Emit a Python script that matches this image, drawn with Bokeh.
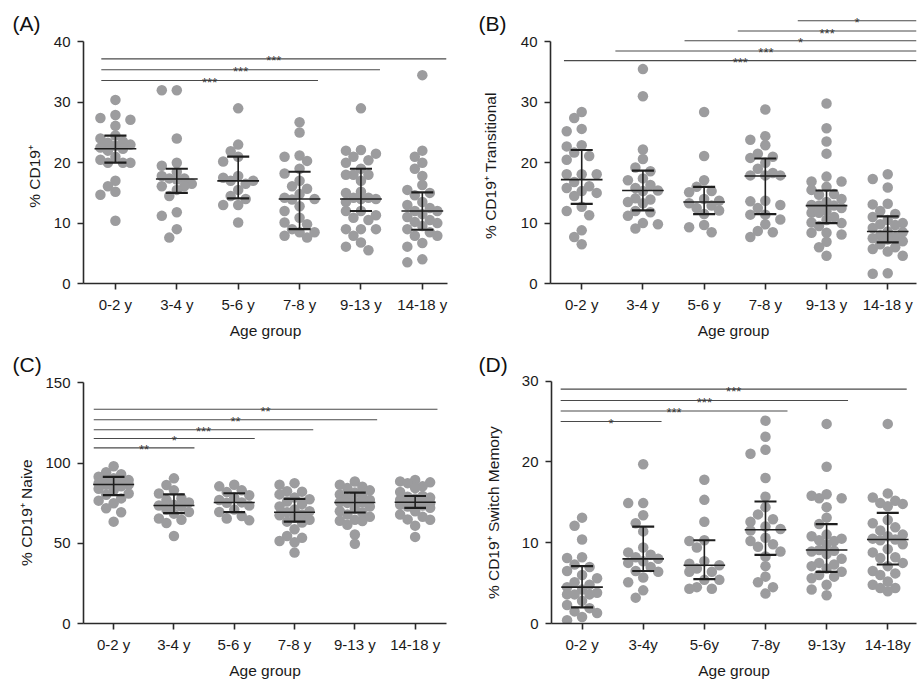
from bokeh.plotting import figure
from bokeh.layouts import column, row
from bokeh.models import FixedTicker, Title
from bokeh.embed import file_html
from bokeh.resources import INLINE
from bokeh.core.properties import value

# ---------------- data ----------------
groups_abc = ["0-2 y", "3-4 y", "5-6 y", "7-8 y", "9-13 y", "14-18 y"]
groups_d = ["0-2 y", "3-4y", "5-6y", "7-8y", "9-13y", "14-18y"]

# (A) % CD19+
cd19_0_2 = [30.4, 27.9, 27.4, 27.1, 26.1, 24.5, 24.0, 23.5, 23.3, 23.0, 22.8, 22.5, 22.3, 22.0, 21.0, 20.5, 20.0, 20.0, 20.0, 17.0, 16.1, 15.2, 14.7, 10.4]
cd19_3_4 = [32.0, 32.0, 24.0, 20.0, 19.5, 18.5, 17.8, 17.4, 17.4, 17.2, 16.5, 16.1, 16.1, 15.5, 14.5, 11.8, 11.2, 9.0, 7.6]
cd19_5_6 = [29.0, 23.0, 21.9, 21.0, 20.2, 17.8, 17.5, 17.0, 17.0, 16.5, 15.5, 14.5, 14.0, 13.0, 13.0, 10.1]
cd19_7_8 = [26.7, 25.0, 21.2, 21.0, 20.3, 19.0, 18.2, 17.0, 16.1, 15.7, 14.8, 14.2, 14.0, 13.9, 12.8, 12.0, 10.9, 10.1, 9.8, 9.0, 8.5, 8.5, 7.9, 7.6]
cd19_9_13 = [29.0, 22.1, 22.0, 21.5, 21.0, 20.4, 20.0, 19.0, 18.0, 18.0, 18.0, 17.0, 15.2, 15.0, 14.2, 14.2, 14.0, 14.0, 13.5, 12.0, 12.0, 11.3, 10.9, 10.5, 9.0, 9.0, 9.0, 7.9, 6.8, 6.1, 5.5]
cd19_14_18 = [34.5, 22.0, 21.0, 20.0, 19.0, 17.8, 16.3, 15.5, 15.0, 14.6, 13.5, 13.0, 12.5, 12.0, 12.0, 11.5, 11.0, 10.5, 10.2, 10.0, 9.5, 9.0, 8.5, 7.9, 7.9, 6.7, 6.1, 4.0, 3.5]
cd19_med = [22.3, 17.3, 17.0, 14.0, 14.0, 12.0]
cd19_q1 = [20.0, 15.0, 14.1, 9.0, 12.0, 8.9]
cd19_q3 = [24.5, 19.0, 21.0, 18.5, 19.0, 15.1]
cd19_sig_from = [-0.23, -0.23, -0.23]
cd19_sig_to = [3.30, 4.31, 5.39]
cd19_sig_y = [33.6, 35.4, 37.2]
cd19_sig_lab = ["***", "***", "***"]

# (B) % CD19+ Transitional
tr_0_2 = [28.4, 27.4, 25.6, 25.2, 22.9, 22.7, 21.7, 21.1, 20.5, 18.1, 18.1, 18.1, 16.8, 16.1, 15.8, 15.3, 15.0, 14.5, 12.7, 12.0, 11.3, 8.8, 7.7, 6.5]
tr_3_4 = [35.5, 31.0, 22.2, 20.6, 19.2, 18.6, 17.4, 17.1, 16.3, 15.8, 15.4, 15.3, 14.1, 13.9, 13.5, 13.3, 12.0, 11.8, 11.2, 10.0, 9.8, 9.1]
tr_5_6 = [28.4, 21.1, 17.1, 16.0, 15.3, 15.1, 14.0, 13.7, 13.3, 12.9, 12.5, 12.1, 11.5, 9.7, 9.3, 8.5]
tr_7_8 = [28.8, 24.4, 23.8, 22.9, 21.5, 21.0, 20.8, 20.0, 19.0, 18.3, 17.9, 17.9, 17.9, 13.7, 13.6, 13.0, 12.5, 11.4, 11.4, 10.6, 9.8, 8.7, 8.5, 7.7]
tr_9_13 = [29.8, 25.7, 23.5, 21.5, 17.7, 16.9, 16.9, 16.0, 15.5, 14.8, 14.7, 14.0, 13.5, 13.0, 12.9, 12.9, 12.5, 12.0, 11.7, 11.7, 11.0, 10.5, 10.1, 10.0, 9.5, 8.4, 8.4, 8.1, 6.9, 6.0, 4.6]
tr_14_18 = [18.1, 17.3, 15.9, 13.2, 13.1, 12.0, 11.5, 11.0, 10.5, 10.0, 9.8, 9.7, 9.2, 8.6, 8.5, 8.0, 7.7, 7.5, 7.3, 7.0, 6.5, 6.0, 5.7, 5.3, 4.6, 1.7, 1.6]
tr_med = [17.2, 15.4, 13.5, 17.8, 12.9, 8.6]
tr_q1 = [13.2, 12.1, 11.5, 11.5, 10.0, 6.8]
tr_q3 = [22.1, 18.7, 16.0, 20.7, 15.4, 11.1]
tr_sig_from = [-0.29, 0.55, 1.68, 2.55, 3.53]
tr_sig_to = [5.47, 5.47, 5.47, 5.47, 5.47]
tr_sig_y = [36.9, 38.5, 40.2, 41.8, 43.5]
tr_sig_lab = ["***", "***", "*", "***", "*"]

# (C) % CD19+ Naive
nv_0_2 = [98.0, 94.3, 93.0, 91.5, 90.5, 89.4, 88.5, 88.0, 87.5, 87.0, 86.7, 86.5, 85.5, 84.0, 83.0, 81.0, 80.3, 78.0, 76.6, 75.0, 71.9, 69.4, 63.5]
nv_3_4 = [90.5, 86.4, 83.0, 81.0, 78.1, 77.0, 75.5, 74.0, 73.6, 72.9, 71.0, 69.5, 68.5, 65.5, 64.7, 62.7, 54.5]
nv_5_6 = [86.5, 85.5, 83.0, 82.0, 80.0, 78.5, 77.0, 75.5, 75.3, 73.5, 71.0, 69.5, 67.0, 65.5, 64.3]
nv_7_8 = [87.5, 86.5, 82.5, 82.2, 80.5, 78.5, 77.5, 76.0, 74.5, 73.0, 71.0, 70.0, 69.4, 68.0, 67.5, 66.0, 64.7, 63.5, 62.9, 58.8, 54.5, 53.4, 51.4, 50.7, 44.2]
nv_9_13 = [88.5, 86.5, 85.3, 84.5, 83.0, 81.6, 80.5, 79.5, 78.0, 77.0, 76.0, 75.6, 75.4, 75.2, 73.0, 71.5, 70.0, 69.2, 68.0, 66.5, 64.7, 64.1, 63.9, 61.6, 55.5, 49.7]
nv_14_18 = [89.5, 88.6, 88.0, 87.5, 85.5, 84.5, 82.0, 79.5, 79.0, 78.5, 78.0, 77.0, 76.5, 75.6, 75.0, 74.5, 74.0, 73.5, 73.0, 72.1, 70.0, 68.0, 66.5, 64.9, 64.7, 61.0, 54.0]
nv_med = [86.7, 73.6, 75.4, 69.4, 75.4, 75.6]
nv_q1 = [80.1, 68.8, 69.4, 63.5, 69.2, 72.1]
nv_q3 = [91.4, 80.5, 81.2, 77.7, 81.6, 79.5]
nv_sig_from = [-0.33, -0.33, -0.33, -0.33, -0.33]
nv_sig_to = [1.34, 2.34, 3.31, 4.37, 5.37]
nv_sig_y = [109.5, 115.3, 120.8, 127.0, 133.6]
nv_sig_lab = ["**", "*", "***", "**", "**"]

# (D) % CD19+ Switch Memory
sm_0_2 = [13.1, 12.1, 10.4, 8.2, 8.1, 7.3, 7.0, 6.5, 6.0, 5.6, 5.1, 4.8, 4.5, 4.2, 3.8, 3.6, 3.6, 3.6, 2.8, 2.3, 1.9, 1.5, 1.3, 0.8, 0.4]
sm_3_4 = [19.7, 14.9, 14.9, 13.4, 12.4, 11.4, 9.4, 8.8, 8.5, 8.2, 8.0, 7.7, 7.5, 7.0, 6.5, 6.4, 5.7, 5.1, 4.1, 3.2]
sm_5_6 = [17.8, 15.3, 12.6, 10.3, 10.2, 9.4, 7.7, 7.4, 7.2, 6.8, 6.4, 6.4, 5.4, 5.4, 4.5, 4.3, 4.3]
sm_7_8 = [25.1, 23.1, 21.5, 21.0, 18.0, 15.7, 14.4, 13.5, 12.9, 12.6, 12.0, 11.7, 11.5, 10.6, 10.2, 9.8, 9.5, 8.9, 8.3, 7.1, 5.8, 5.1, 4.5, 3.7]
sm_9_13 = [24.7, 19.4, 16.0, 15.8, 15.5, 15.5, 14.4, 13.1, 12.3, 11.0, 10.8, 10.5, 10.3, 10.2, 9.8, 9.1, 9.0, 8.9, 8.6, 8.0, 7.5, 7.3, 7.1, 6.8, 6.4, 6.0, 5.8, 5.6, 4.8, 4.2, 3.5]
sm_14_18 = [24.7, 16.1, 15.6, 15.2, 14.9, 14.8, 14.5, 12.8, 12.4, 11.9, 11.5, 11.0, 10.8, 10.5, 10.4, 10.3, 9.8, 9.2, 8.8, 8.2, 8.1, 7.5, 7.1, 6.5, 6.2, 6.0, 5.2, 4.8, 4.4, 4.4, 4.0]
sm_med = [4.5, 8.0, 7.2, 11.6, 9.1, 10.4]
sm_q1 = [2.0, 6.5, 5.5, 8.5, 6.4, 7.3]
sm_q3 = [7.1, 12.0, 10.3, 15.1, 12.3, 13.7]
sm_sig_from = [-0.35, -0.35, -0.35, -0.35]
sm_sig_to = [1.30, 3.36, 4.35, 5.31]
sm_sig_y = [25.0, 26.3, 27.6, 29.0]
sm_sig_lab = ["*", "***", "***", "***"]

# ---------------- style ----------------
FONT = "Liberation Sans"
DOT = "#9c9c9e"
INK = "#1e1e1e"
AXIS = "#2a2a2a"
NBSP = "\u00a0"


def swarm(vals, px_per_unit, px_per_cat, step=7.5, dmin=9.0):
    """Column-style dot layout: at most two half-dot steps either side."""
    order = sorted(range(len(vals)), key=lambda i: -vals[i])
    placed = []
    offs = [0.0] * len(vals)
    for i in order:
        y = vals[i] * px_per_unit
        best_k, best_d = 0, -1.0
        chosen = None
        for k in [0, -1, 1, -2, 2]:
            x = k * step
            d = min([((x - a) ** 2 + (y - b) ** 2) ** 0.5 for a, b in placed] or [1e9])
            if d >= dmin:
                chosen = k
                break
            if d > best_d:
                best_k, best_d = k, d
        if chosen is None:
            chosen = best_k
        placed.append((chosen * step, y))
        offs[i] = chosen * step / px_per_cat
    return offs


def panel(letter, ylabel, labels, data, med, q1, q3, sf, st, sy, sl,
          ytop, yticks, x_start, x_end, W, H, bl, br, y0, ytop_px, ylab_standoff, ylab_pad):
    frame_w = W - bl - br
    ppc = frame_w / (x_end - x_start)
    ppu = (y0 - ytop_px) / ytop
    y_end = y0 / ppu
    p = figure(width=W, height=H, x_range=(x_start, x_end), y_range=(0, y_end),
               output_backend="svg", toolbar_location=None,
               min_border_left=bl, min_border_right=br, min_border_top=0,
               min_border_bottom=H - y0)
    p.outline_line_color = None
    p.xgrid.visible = False
    p.ygrid.visible = False

    # dots
    xs, ys = [], []
    for i, vals in enumerate(data):
        offs = swarm(vals, ppu, ppc)
        xs += [i + o for o in offs]
        ys += list(vals)
    p.scatter(xs, ys, size=10.5, marker="circle", fill_color=DOT, line_color=None)

    # median + interquartile range
    idx = list(range(len(labels)))
    p.segment(idx, q1, idx, q3, line_color=INK, line_width=1.6)
    p.segment([i - 0.18 for i in idx], q1, [i + 0.18 for i in idx], q1, line_color=INK, line_width=2.2)
    p.segment([i - 0.18 for i in idx], q3, [i + 0.18 for i in idx], q3, line_color=INK, line_width=2.2)
    p.segment([i - 0.34 for i in idx], med, [i + 0.34 for i in idx], med, line_color=INK, line_width=1.6)

    # significance brackets
    p.segment(sf, sy, st, sy, line_color="#4a4a4a", line_width=1.1)
    p.text([(a + b) / 2 for a, b in zip(sf, st)], sy, text=sl,
           text_font=value(FONT), text_font_size="13px", text_color="#333333",
           text_align="center", text_baseline="alphabetic", y_offset=2)

    # axes
    p.xaxis.ticker = FixedTicker(ticks=idx)
    p.xaxis.major_label_overrides = {i: lab for i, lab in enumerate(labels)}
    p.yaxis.ticker = FixedTicker(ticks=yticks)
    p.yaxis.bounds = (0, ytop)
    for ax in (p.xaxis[0], p.yaxis[0]):
        ax.axis_line_color = AXIS
        ax.axis_line_width = 1.6
        ax.major_tick_line_color = AXIS
        ax.major_tick_line_width = 1.6
        ax.major_tick_out = 6
        ax.major_tick_in = 0
        ax.minor_tick_line_color = None
        ax.major_label_text_font = FONT
        ax.major_label_text_font_size = "15px"
        ax.major_label_text_color = "#1a1a1a"
        ax.axis_label_text_font = FONT
        ax.axis_label_text_font_size = "15.5px"
        ax.axis_label_text_font_style = "normal"
        ax.axis_label_text_color = "#1a1a1a"
    p.xaxis.major_label_standoff = 6
    p.xaxis.axis_label = "Age group"
    p.xaxis.axis_label_standoff = 6
    p.yaxis.major_label_standoff = 7
    # trailing no-break spaces move the (centred, rotated) label down the axis
    p.yaxis.axis_label = ylabel + NBSP * ylab_pad
    p.yaxis.axis_label_standoff = ylab_standoff

    # panel letter: a title whose side panel takes no height
    t = Title(text="\n\n" + letter[0], align="left", vertical_align="bottom",
              offset=letter[1] - bl, standoff=-70,
              text_font=FONT, text_font_size="21px", text_font_style="normal",
              text_color="#111111", text_line_height=0.95)
    p.add_layout(t, "above")
    return p


pA = panel(("(A)", 12), "% CD19\u207a", groups_abc,
           [cd19_0_2, cd19_3_4, cd19_5_6, cd19_7_8, cd19_9_13, cd19_14_18],
           cd19_med, cd19_q1, cd19_q3, cd19_sig_from, cd19_sig_to, cd19_sig_y, cd19_sig_lab,
           40, [0, 10, 20, 30, 40], -0.52, 5.41, 458, 341, 83, 11, 287, 42, 8, 16)
pB = panel(("(B)", 20), "%  CD19\u207a Transitional", groups_abc,
           [tr_0_2, tr_3_4, tr_5_6, tr_7_8, tr_9_13, tr_14_18],
           tr_med, tr_q1, tr_q3, tr_sig_from, tr_sig_to, tr_sig_y, tr_sig_lab,
           40, [0, 10, 20, 30, 40], -0.51, 5.47, 459, 341, 92, 1, 287, 42, 19, 10)
pC = panel(("(C)", 12), "% CD19\u207a Naive", groups_abc,
           [nv_0_2, nv_3_4, nv_5_6, nv_7_8, nv_9_13, nv_14_18],
           nv_med, nv_q1, nv_q3, nv_sig_from, nv_sig_to, nv_sig_y, nv_sig_lab,
           150, [0, 50, 100, 150], -0.50, 5.52, 458, 340, 83, 12, 286, 42, 7, 14)
pD = panel(("(D)", 20), "% CD19\u207a Switch Memory", groups_d,
           [sm_0_2, sm_3_4, sm_5_6, sm_7_8, sm_9_13, sm_14_18],
           sm_med, sm_q1, sm_q3, sm_sig_from, sm_sig_to, sm_sig_y, sm_sig_lab,
           30, [0, 10, 20, 30], -0.50, 5.47, 459, 340, 93, 1, 285, 40, 17, 14)

layout = column(row(pA, pB), row(pC, pD))
open("out.html", "w").write(file_html(layout, INLINE))
